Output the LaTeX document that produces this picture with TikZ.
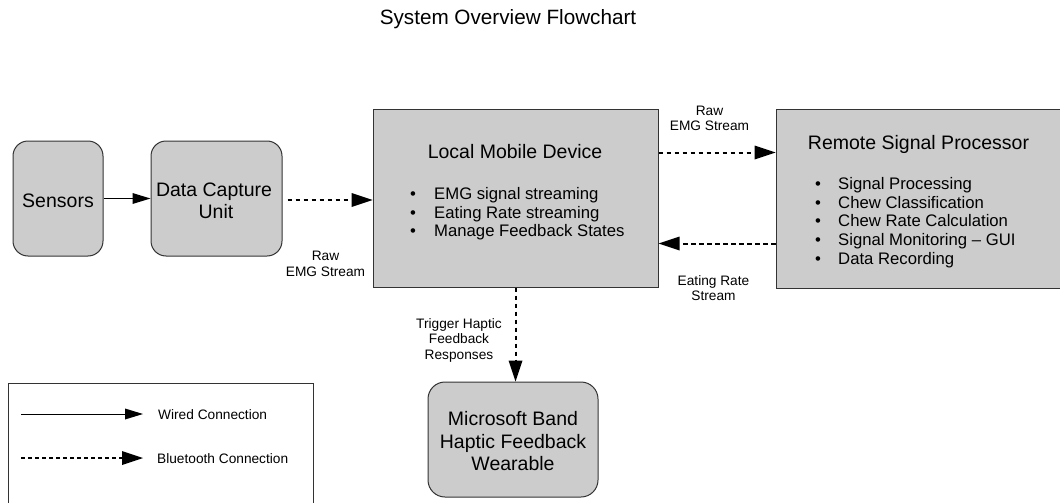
\documentclass[tikz,border=0pt]{standalone}
\usepackage{fontspec}
\setmainfont{Liberation Sans}
\usetikzlibrary{arrows.meta,calc}
\definecolor{boxgrey}{HTML}{CCCCCC}
\definecolor{edgegrey}{HTML}{333333}
\begin{document}
\begin{tikzpicture}[x=1pt,y=-1pt,
  box/.style={draw=edgegrey, fill=boxgrey, line width=1pt, inner sep=0pt},
  rbox/.style={box, rounded corners=15pt},
  big/.style={font=\fontsize{19.5}{22.5}\selectfont, inner sep=0pt},
  item/.style={font=\fontsize{16.7}{18.5}\selectfont, inner sep=0pt, anchor=base west},
  lbl/.style={font=\fontsize{13.7}{15.5}\selectfont, inner sep=0pt, anchor=base},
  wired/.style={draw=black, line width=1pt, -{Triangle[length=18pt,width=11pt,line width=0pt]}},
  bt/.style={draw=black, line width=2pt, dash pattern=on 4.5pt off 3.5pt, -{Triangle[length=21pt,width=14pt,line width=0pt]}},
  legendbox/.style={draw=edgegrey, line width=1pt}
]
\useasboundingbox (0,0) rectangle (1060,503);
\clip (0,0) rectangle (1060,503);

% title
\node[font=\fontsize{20.7}{24}\selectfont, inner sep=0pt, anchor=base] (title) at (508,25) {System Overview Flowchart};

% boxes
\node[rbox, minimum width=90pt, minimum height=115pt] (sensors) at (58,198.5) {};
\node[big, anchor=base] (sensorst) at (58,207) {Sensors};

\node[rbox, minimum width=131pt, minimum height=115pt] (dcu) at (216.5,198.5) {};
\node[big, anchor=base] (dcut1) at (214,196) {Data Capture};
\node[big, anchor=base] (dcut2) at (216,218) {Unit};

\node[box, minimum width=285pt, minimum height=178pt] (lmd) at (515.5,198) {};
\node[big, anchor=base] (lmdt) at (515,158) {Local Mobile Device};
\node[item] (lmd1) at (410,199) {\makebox[24pt][l]{•}EMG signal streaming};
\node[item] (lmd2) at (410,218) {\makebox[24pt][l]{•}Eating Rate streaming};
\node[item] (lmd3) at (410,236.5) {\makebox[24pt][l]{•}Manage Feedback States};

\node[box, minimum width=300pt, minimum height=179pt] (rsp) at (926,198.5) {};
\node[big, anchor=base] (rspt) at (918.5,149) {Remote Signal Processor};
\node[item] (rsp1) at (815,189) {\makebox[23pt][l]{•}Signal Processing};
\node[item] (rsp2) at (815,208) {\makebox[23pt][l]{•}Chew Classification};
\node[item] (rsp3) at (815,226.5) {\makebox[23pt][l]{•}Chew Rate Calculation};
\node[item] (rsp4) at (815,245.5) {\makebox[23pt][l]{•}Signal Monitoring – GUI};
\node[item] (rsp5) at (815,264) {\makebox[23pt][l]{•}Data Recording};

\node[rbox, minimum width=170pt, minimum height=115pt, rounded corners=17pt] (band) at (513,439.5) {};
\node[big, anchor=base] (bandt1) at (513,425) {Microsoft Band};
\node[big, anchor=base] (bandt2) at (513,448) {Haptic Feedback};
\node[big, anchor=base] (bandt3) at (513,470.5) {Wearable};

% connectors
\draw[wired] (sensors.east) -- (dcu.west);
\draw[bt, shorten <=5pt] ($(dcu.east)+(0,1.5)$) -- ($(lmd.west)+(0,2)$);
\draw[bt] ($(lmd.north east)+(0,44)$) -- ($(rsp.north west)+(0,44)$);
\draw[bt] ($(rsp.north west)+(0,135)$) -- ($(lmd.north east)+(0,135)$);
\draw[bt] (lmd.south) -- (lmd.south |- band.north);

% connector labels
\node[lbl] (raw1a) at (709.5,115) {Raw};
\node[lbl] (raw1b) at (709.5,130) {EMG Stream};
\node[lbl] (raw2a) at (325.5,260.5) {Raw};
\node[lbl] (raw2b) at (325.5,276) {EMG Stream};
\node[lbl] (eat1) at (713.5,285) {Eating Rate};
\node[lbl] (eat2) at (713.5,300) {Stream};
\node[lbl] (trig1) at (459,328) {Trigger Haptic};
\node[lbl] (trig2) at (459,343.5) {Feedback};
\node[lbl] (trig3) at (459,359) {Responses};

% legend
\draw[legendbox] (8,520) -- (8,383) -- (313,383) -- (313,520);
\coordinate (w1) at (21,414);
\coordinate (w2) at (143,414);
\coordinate (b1) at (21,458);
\coordinate (b2) at (143,458);
\draw[wired] (w1) -- (w2);
\draw[bt, line width=1.6pt, dash pattern=on 4pt off 3pt] (b1) -- (b2);
\node[lbl, anchor=base west] (wiredt) at (158,419) {Wired Connection};
\node[lbl, anchor=base west] (btt) at (157,463) {Bluetooth Connection};
\end{tikzpicture}
\end{document}
